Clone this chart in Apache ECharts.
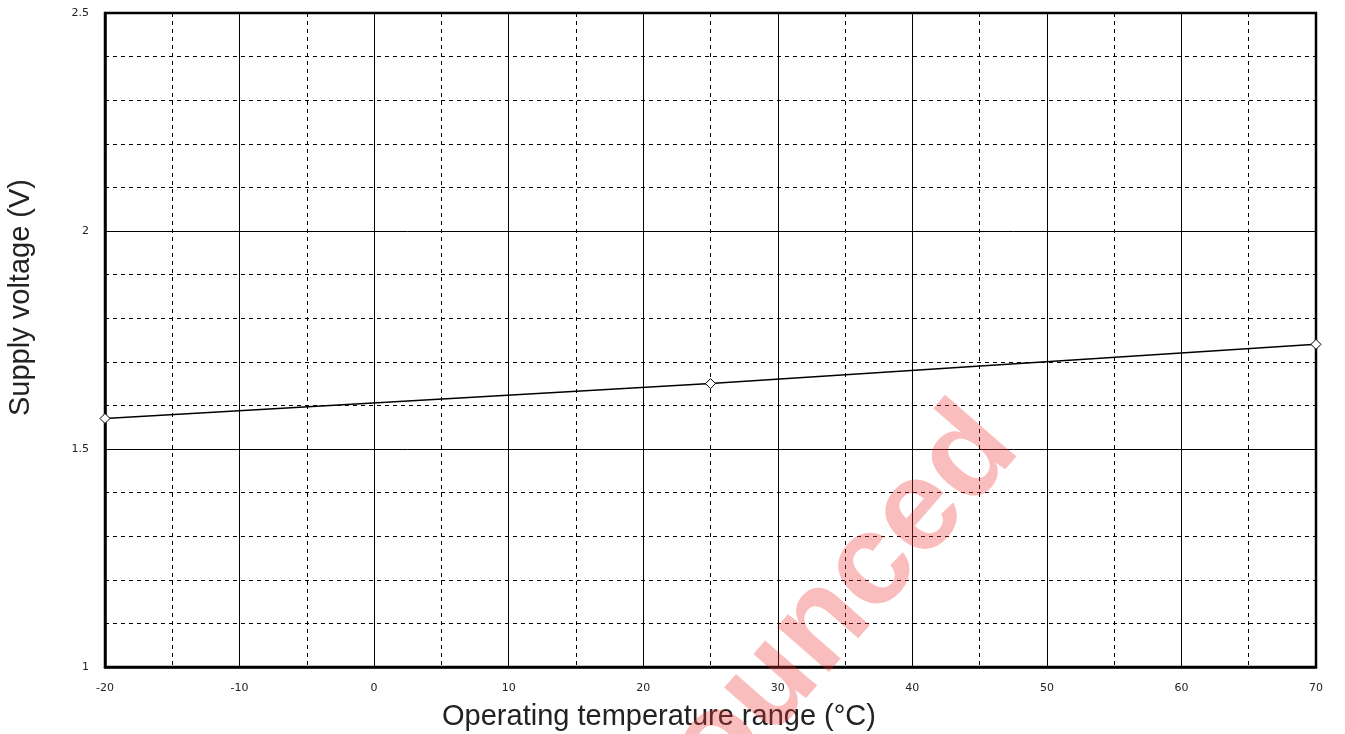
<!DOCTYPE html>
<html>
<head>
<meta charset="utf-8">
<script src="https://cdn.jsdelivr.net/npm/echarts@6/dist/echarts.min.js"></script>
<style>
html,body{margin:0;padding:0;background:#fff;}
#chart{width:1345px;height:734px;}
</style>
</head>
<body>
<div id="chart"></div>
<script>
var temperatures = [-20, 25, 70];
var voltages = [1.57, 1.65, 1.74];
var xTitle = 'Operating temperature range (°C)';
var yTitle = 'Supply voltage (V)';
var watermarkText = 'Announced';

var chart = echarts.init(document.getElementById('chart'));
var font = '"Liberation Sans", Arial, sans-serif';
var tickFont = '"DejaVu Sans", sans-serif';
chart.setOption({
  backgroundColor: '#ffffff',
  animation: false,
  grid: {left: 105, right: 29, top: 13, bottom: 67, outerBoundsMode: 'none', containLabel: false,
         show: true, borderColor: '#000', borderWidth: 2.5, backgroundColor: 'transparent'},
  xAxis: {
    type: 'value', min: -20, max: 70, interval: 10,
    name: xTitle, nameLocation: 'middle', nameGap: 35,
    nameTextStyle: {fontFamily: font, fontSize: 29, color: '#222', padding: [0, 103, 0, 0]},
    axisLine: {show: true, onZero: false, lineStyle: {color: '#000', width: 2.5}},
    axisTick: {show: false},
    axisLabel: {fontFamily: tickFont, fontSize: 11, color: '#222', margin: 16},
    splitLine: {show: true, lineStyle: {color: '#000', width: 1}},
    minorTick: {show: false, splitNumber: 2},
    minorSplitLine: {show: true, lineStyle: {color: '#000', width: 1, type: [4, 4]}}
  },
  yAxis: {
    type: 'value', min: 1, max: 2.5, interval: 0.5,
    name: yTitle, nameLocation: 'middle', nameGap: 70,
    nameTextStyle: {fontFamily: font, fontSize: 29, color: '#222', padding: [0, 0, 0, 85]},
    axisLine: {show: true, onZero: false, lineStyle: {color: '#000', width: 2.5}},
    axisTick: {show: false},
    axisLabel: {fontFamily: tickFont, fontSize: 11, color: '#222', margin: 16},
    splitLine: {show: true, lineStyle: {color: '#000', width: 1}},
    minorTick: {show: false, splitNumber: 5},
    minorSplitLine: {show: true, lineStyle: {color: '#000', width: 1, type: [4, 4]}}
  },
  series: [{
    type: 'line',
    data: temperatures.map(function (t, i) { return [t, voltages[i]]; }),
    symbol: 'diamond', symbolSize: 10, showSymbol: true,
    lineStyle: {color: '#000', width: 1.5},
    itemStyle: {color: '#fff', borderColor: '#000', borderWidth: 1},
    z: 5
  }],
  graphic: [{
    type: 'text',
    x: 1044, y: 469,
    rotation: 49 * Math.PI / 180,
    z: 100,
    silent: true,
    style: {
      text: watermarkText,
      fontFamily: font,
      fontWeight: 'bold',
      fontSize: 130,
      fill: 'rgba(240,50,50,0.32)',
      align: 'right',
      verticalAlign: 'bottom'
    }
  }]
});
</script>
</body>
</html>
